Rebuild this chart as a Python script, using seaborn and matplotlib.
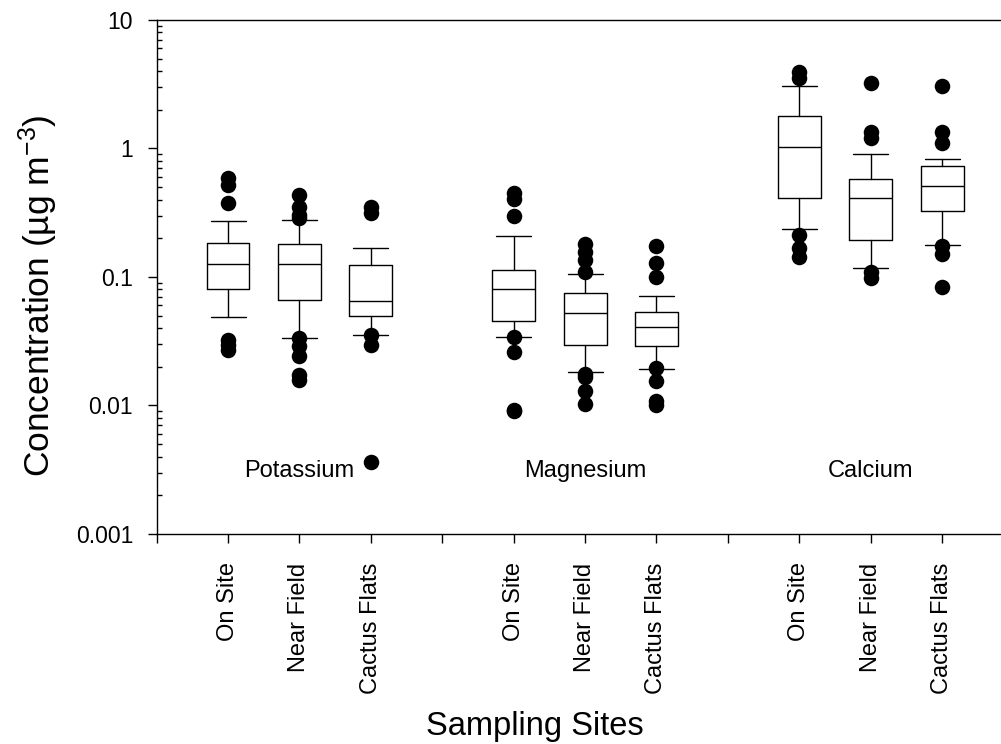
import numpy as np
import pandas as pd
import matplotlib
matplotlib.use("Agg")
import matplotlib.pyplot as plt
import matplotlib.ticker as mticker
import seaborn as sns

elements = ["Potassium", "Magnesium", "Calcium"]
sites = ["On Site", "Near Field", "Cactus Flats"]

# Box statistics (µg m^-3), ordered element by element, sites within each element.
# Whiskers mark the 10th/90th percentiles; points beyond them are listed separately.
whisker_low = [0.0487, 0.0332, 0.0355, 0.0343, 0.0182, 0.0191, 0.238, 0.118, 0.176]
quartile_1 = [0.0802, 0.0663, 0.0499, 0.0456, 0.0294, 0.0290, 0.415, 0.195, 0.327]
median = [0.127, 0.127, 0.0655, 0.0807, 0.0520, 0.0407, 1.02, 0.408, 0.510]
quartile_3 = [0.1845, 0.179, 0.1233, 0.1133, 0.0747, 0.0538, 1.78, 0.575, 0.729]
whisker_high = [0.273, 0.277, 0.169, 0.207, 0.106, 0.0716, 3.08, 0.903, 0.822]
outliers = [
    [0.593, 0.517, 0.377, 0.0325, 0.0295, 0.0272],
    [0.432, 0.351, 0.303, 0.290, 0.0335, 0.0288, 0.0244, 0.0174, 0.0159],
    [0.351, 0.312, 0.0355, 0.0297, 0.00366],
    [0.450, 0.407, 0.297, 0.0343, 0.0261, 0.0093, 0.0090],
    [0.180, 0.155, 0.135, 0.110, 0.0177, 0.0167, 0.0129, 0.0102],
    [0.173, 0.129, 0.100, 0.0196, 0.0154, 0.0108, 0.0100],
    [3.90, 3.53, 0.212, 0.167, 0.144],
    [3.21, 1.34, 1.21, 0.110, 0.0977],
    [3.06, 1.34, 1.10, 0.174, 0.151, 0.0841],
]
y_tick_values = [0.001, 0.01, 0.1, 1, 10]

sns.set_theme(style="ticks")
plt.rcParams["font.family"] = ["Liberation Sans", "DejaVu Sans"]
plt.rcParams["mathtext.default"] = "regular"
plt.rcParams["text.color"] = "black"
plt.rcParams["xtick.color"] = "black"
plt.rcParams["ytick.color"] = "black"
plt.rcParams["xtick.labelcolor"] = "black"
plt.rcParams["ytick.labelcolor"] = "black"

# one slot per site, with an empty slot between element groups
positions = [4 * e + s + 1 for e in range(len(elements)) for s in range(len(sites))]
separators = [0, 4, 8]

fig = plt.figure(figsize=(10.01, 7.44), dpi=100)
ax = fig.add_axes([0.1565, 0.2823, 0.856, 0.6909])
ax.set_yscale("log")

stats = []
for i in range(len(positions)):
    stats.append(dict(whislo=whisker_low[i], q1=quartile_1[i], med=median[i],
                      q3=quartile_3[i], whishi=whisker_high[i], fliers=[]))

line = dict(color="black", linewidth=1.0)
ax.bxp(stats, positions=positions, widths=0.6, capwidths=0.49, showfliers=False,
       boxprops=line, whiskerprops=line, capprops=line, medianprops=line)

rows = []
for i, vals in enumerate(outliers):
    e, s = divmod(i, len(sites))
    for v in vals:
        rows.append({"element": elements[e], "site": sites[s], "pos": positions[i], "value": v})
df_out = pd.DataFrame(rows)
sns.scatterplot(data=df_out, x="pos", y="value", color="black", s=125,
                linewidth=0, ax=ax, zorder=3)

ax.set_xlim(0, 12)
ax.set_ylim(1e-3, 10)

tick_pos = separators + positions
tick_lab = [""] * len(separators) + sites * len(elements)
ax.set_xticks(tick_pos)
ax.set_xticklabels(tick_lab, rotation=90, fontsize=17, color="black")
ax.set_yticks(y_tick_values)
ax.yaxis.set_major_formatter(mticker.FuncFormatter(lambda v, _: f"{v:g}"))
ax.yaxis.set_minor_locator(mticker.LogLocator(base=10, subs=np.arange(2, 10)))
ax.yaxis.set_minor_formatter(mticker.NullFormatter())
ax.tick_params(axis="y", which="major", direction="out", length=6.5, width=1.0,
               labelsize=16.5, pad=10.5, color="black", labelcolor="black")
ax.tick_params(axis="y", which="minor", direction="in", length=3.6, width=1.0, color="black")
ax.tick_params(axis="x", which="major", direction="out", length=6.5, width=1.0,
               pad=14, color="black", labelcolor="black")
ax.set_xlabel("")
ax.set_ylabel("")

for side in ["left", "bottom", "top"]:
    ax.spines[side].set_color("black")
    ax.spines[side].set_linewidth(1.0)
ax.spines["right"].set_visible(False)

for e, name in enumerate(elements):
    ax.text(positions[3 * e + 1], 0.0031, name, ha="center", va="center",
            fontsize=17, color="black")

fig.text(38 / 1001, 1 - 296 / 744, "Concentration (µg m$^{-3}$)", rotation=90,
         ha="center", va="center", fontsize=25.5, color="black")
fig.text(535 / 1001, 1 - 727 / 744, "Sampling Sites", ha="center", va="center",
         fontsize=23.5, color="black")

fig.savefig("out.png", dpi=100)
